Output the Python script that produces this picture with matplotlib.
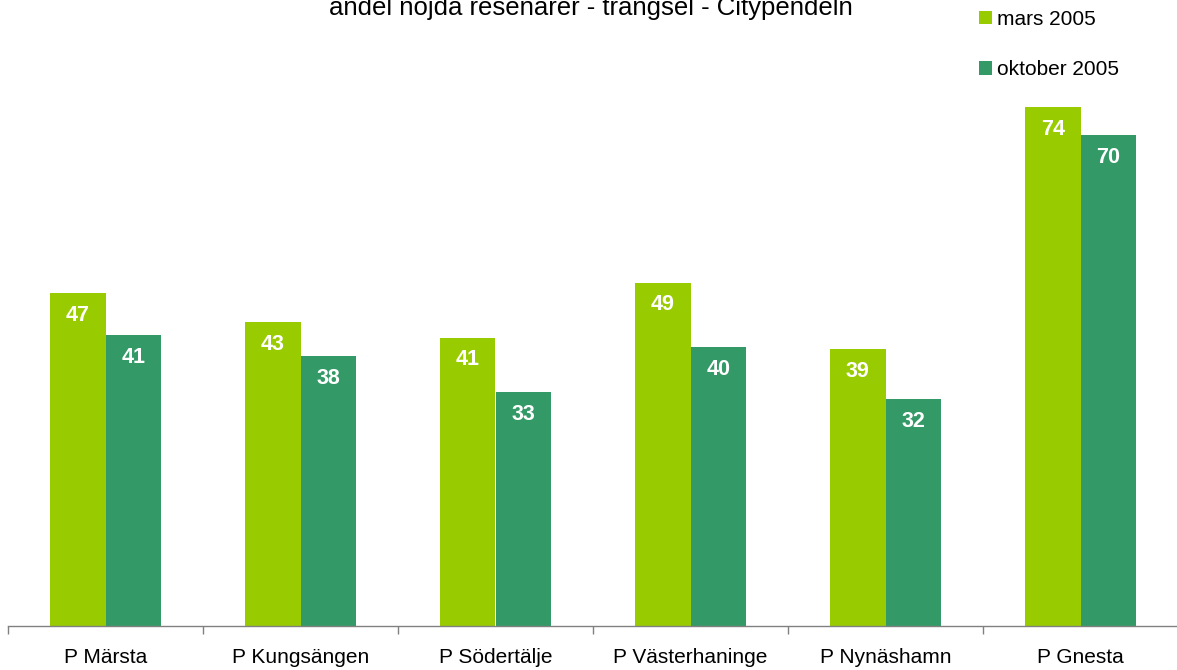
import matplotlib
matplotlib.use("Agg")
import matplotlib.pyplot as plt
import numpy as np

categories = ["P Märsta", "P Kungsängen", "P Södertälje", "P Västerhaninge", "P Nynäshamn", "P Gnesta"]
series_names = ["mars 2005", "oktober 2005"]
mars = [47.2, 43.1, 40.9, 48.7, 39.3, 73.6]
oktober = [41.3, 38.3, 33.2, 39.6, 32.2, 69.6]
title = "andel nöjda resenärer - trängsel - Citypendeln"

plt.rcParams['font.family'] = ['Liberation Sans', 'DejaVu Sans']

W, H = 1177, 670
fig = plt.figure(figsize=(W / 100, H / 100), dpi=100)
ax = fig.add_axes([8 / W, (H - 626) / H, 1170 / W, 626 / H])

x = np.arange(len(categories))
bw = 0.285
colors = ["#99CC00", "#339966"]
for vals, off, c, name in [(mars, -bw / 2, colors[0], series_names[0]),
                           (oktober, bw / 2, colors[1], series_names[1])]:
    bars = ax.bar(x + off, vals, width=bw, color=c, label=name, linewidth=0)
    for b, v in zip(bars, vals):
        ax.annotate(f"{v:.0f}", (b.get_x() + b.get_width() / 2, b.get_height()),
                    xytext=(0, -16), textcoords="offset points",
                    ha="center", va="center", color="white",
                    fontsize=15.5, fontweight="bold")

ax.set_xlim(-0.5, len(categories) - 0.5)
ax.set_ylim(0, 626 / 7.05)
for s in ["top", "right", "left"]:
    ax.spines[s].set_visible(False)
ax.spines["bottom"].set_color("#808080")
ax.spines["bottom"].set_linewidth(1)
ax.set_yticks([])
ax.set_xticks(x)
ax.set_xticklabels(categories, fontsize=15)
ax.tick_params(axis="x", which="major", length=0, pad=16)
ax.set_xticks(np.arange(len(categories) + 1) - 0.5, minor=True)
ax.tick_params(axis="x", which="minor", length=6, color="#808080", width=1)

fig.text(591 / W, 1 - 15 / H, title, ha="center", va="baseline", fontsize=18.5)

leg = ax.legend(loc="upper left", bbox_to_anchor=(979 / W, 1 - 10 / H),
                bbox_transform=fig.transFigure, frameon=False, fontsize=15,
                handlelength=0.6, handleheight=0.6, handletextpad=0.25,
                labelspacing=1.5, borderpad=0, borderaxespad=0)

fig.savefig("out.png", dpi=100)
